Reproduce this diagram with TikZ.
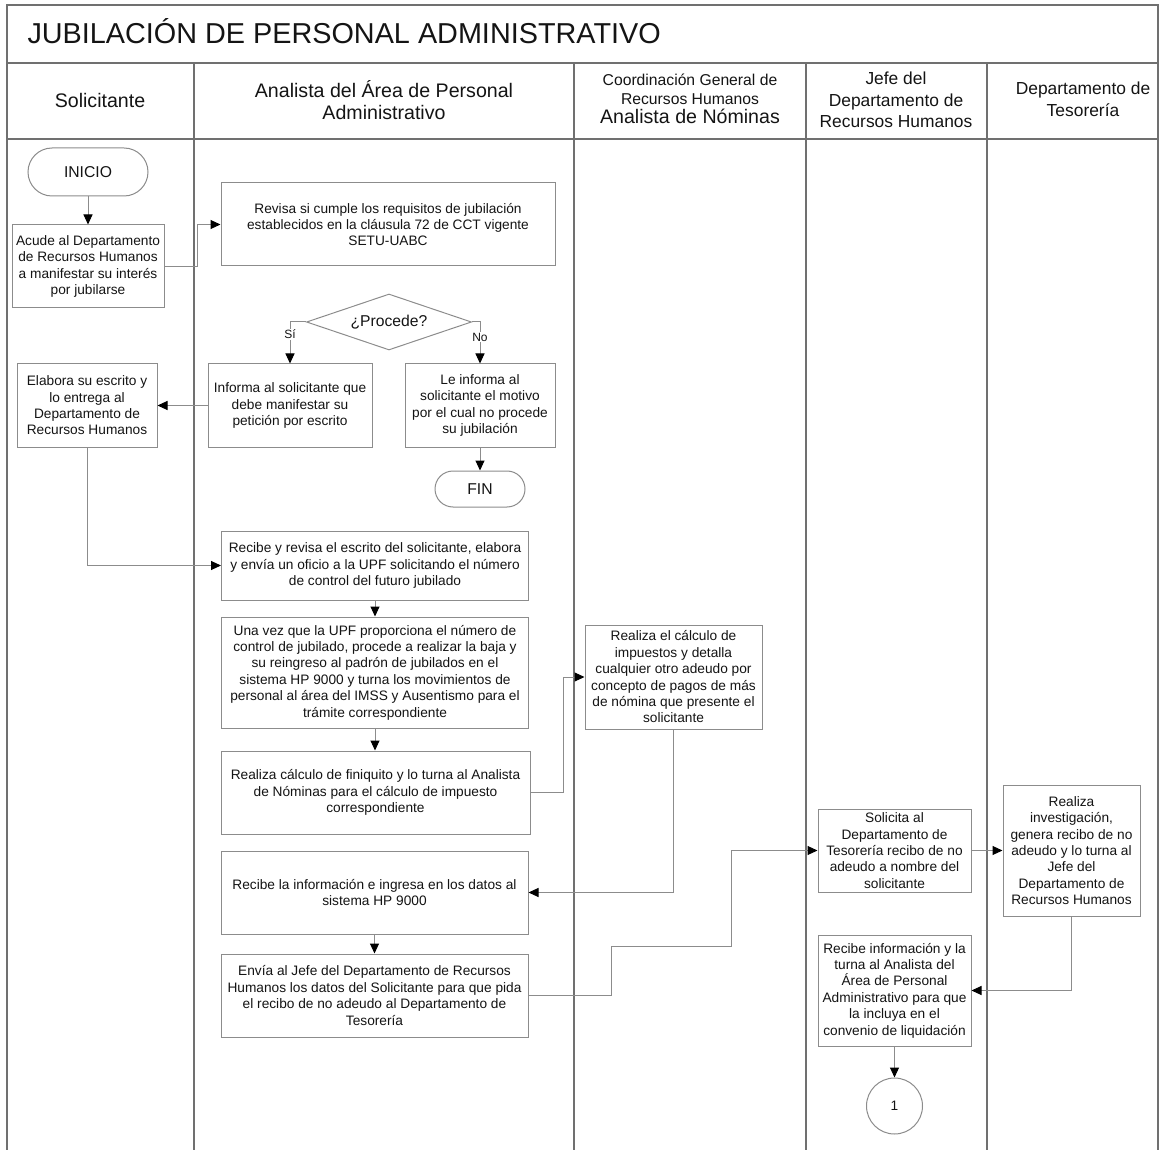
\documentclass[tikz,border=0pt]{standalone}
\usepackage{fontspec}
\setmainfont{Liberation Sans}
\usetikzlibrary{arrows.meta,shapes.geometric}
\definecolor{laneline}{RGB}{112,112,112}
\definecolor{boxline}{RGB}{140,140,140}
\definecolor{inktext}{RGB}{20,20,20}

\begin{document}
\begin{tikzpicture}[
  x=1pt, y=-1pt,
  font=\fontsize{13.7}{16.4}\selectfont, text=inktext,
  lane/.style={draw=laneline, line width=1.3pt},
  proc/.style={draw=boxline, line width=1pt, fill=white, align=center, inner sep=2pt},
  term/.style={proc, font=\fontsize{15.7}{18}\selectfont},
  decision/.style={draw=boxline, line width=1pt, diamond, aspect=3, inner sep=0pt,
              minimum width=165pt, minimum height=56pt, font=\fontsize{15.7}{18}\selectfont},
  conn/.style={draw=boxline, line width=1pt, circle, minimum size=56pt, inner sep=0pt},
  hdr/.style={align=center, font=\fontsize{19.6}{21.5}\selectfont},
  hdrsmall/.style={align=center, font=\fontsize{17.4}{21.5}\selectfont},
  arr/.style={draw=boxline, line width=1pt, -{Triangle[length=10pt,width=9pt,color=black]}},
  lbl/.style={fill=white, inner sep=1pt, font=\fontsize{12}{14}\selectfont}
]
\useasboundingbox (0,0) rectangle (1160,1150);

% frame and swim lanes
\draw[lane] (7,1150) -- (7,5) -- (1158,5) -- (1158,1150);
\draw[lane] (7,63) -- (1158,63);
\draw[lane] (7,139) -- (1158,139);
\foreach \x in {194,574,806,987}
  \draw[lane] (\x,63) -- (\x,1150);

\node[anchor=base west, font=\fontsize{28.8}{30}\selectfont] (titulo) at (24,44) {JUBILACIÓN DE PERSONAL ADMINISTRATIVO};

\node[hdr] (hsol) at (100,100) {Solicitante};
\node[hdr] (hana) at (384,100) {Analista del Área de Personal\\Administrativo};
\node[hdr, font=\fontsize{15.7}{19}\selectfont] (hnom) at (690,99) {Coordinación General de\\Recursos Humanos\\{\fontsize{19.6}{21}\selectfont Analista de Nóminas}};
\node[hdrsmall] (hjefe) at (896,100) {Jefe del\\Departamento de\\Recursos Humanos};
\node[hdrsmall] (htes) at (1083,99.5) {Departamento de\\Tesorería};

% Solicitante
\node[term, minimum width=120pt, minimum height=48pt, rounded corners=24pt] (inicio) at (88,172) {INICIO};
\node[proc, minimum width=152pt, minimum height=83pt] (acude) at (88,266.5) {Acude al Departamento\\de Recursos Humanos\\a manifestar su interés\\por jubilarse};
\node[proc, minimum width=140pt, minimum height=83pt] (elabora) at (87,405.5) {Elabora su escrito y\\lo entrega al\\Departamento de\\Recursos Humanos};

% Analista del Area de Personal Administrativo
\node[proc, minimum width=334pt, minimum height=83pt] (revisa) at (388,224.5) {Revisa si cumple los requisitos de jubilación\\establecidos en la cláusula 72 de CCT vigente\\SETU-UABC};
\node[decision] (procede) at (389,322) {¿Procede?};
\node[proc, minimum width=164pt, minimum height=83pt] (informa) at (290,405.5) {Informa al solicitante que\\debe manifestar su\\petición por escrito};
\node[proc, minimum width=150pt, minimum height=83pt] (motivo) at (480,405.5) {Le informa al\\solicitante el motivo\\por el cual no procede\\su jubilación};
\node[term, minimum width=90pt, minimum height=36pt, rounded corners=18pt] (fin) at (480,489) {FIN};
\node[proc, minimum width=307pt, minimum height=69pt] (oficio) at (375,565.5) {Recibe y revisa el escrito del solicitante, elabora\\y envía un oficio a la UPF solicitando el número\\de control del futuro jubilado};
\node[proc, minimum width=307pt, minimum height=111pt] (baja) at (375,672.5) {Una vez que la UPF proporciona el número de\\control de jubilado, procede a realizar la baja y\\su reingreso al padrón de jubilados en el\\sistema HP 9000 y turna los movimientos de\\personal al área del IMSS y Ausentismo para el\\trámite correspondiente};
\node[proc, minimum width=309pt, minimum height=83pt] (finiquito) at (375.5,792.5) {Realiza cálculo de finiquito y lo turna al Analista\\de Nóminas para el cálculo de impuesto\\correspondiente};
\node[proc, minimum width=307pt, minimum height=83pt] (ingresa) at (374.5,892.5) {Recibe la información e ingresa en los datos al\\sistema HP 9000};
\node[proc, minimum width=307pt, minimum height=83pt] (envia) at (374.5,995.5) {Envía al Jefe del Departamento de Recursos\\Humanos los datos del Solicitante para que pida\\el recibo de no adeudo al Departamento de\\Tesorería};

% Analista de Nominas
\node[proc, minimum width=177pt, minimum height=104pt] (impuestos) at (673.5,677) {Realiza el cálculo de\\impuestos y detalla\\cualquier otro adeudo por\\concepto de pagos de más\\de nómina que presente el\\solicitante};

% Jefe del Departamento de Recursos Humanos
\node[proc, minimum width=153pt, minimum height=83pt] (solicita) at (894.5,850.5) {Solicita al\\Departamento de\\Tesorería recibo de no\\adeudo a nombre del\\solicitante};
\node[proc, minimum width=153pt, minimum height=111pt] (turna) at (894.5,990.5) {Recibe información y la\\turna al Analista del\\Área de Personal\\Administrativo para que\\la incluya en el\\convenio de liquidación};
\node[conn] (uno) at (894.5,1106) {1};

% Departamento de Tesoreria
\node[proc, minimum width=137pt, minimum height=131pt] (recibo) at (1071.5,850.5) {Realiza\\investigación,\\genera recibo de no\\adeudo y lo turna al\\Jefe del\\Departamento de\\Recursos Humanos};

\draw[arr] (inicio) -- (acude);
\draw[arr] (acude.east) -- ++(33,0) |- (revisa.west);
\draw[arr] (procede.west) -| node[lbl, pos=0.65] {Sí} (informa.north);
\draw[arr] (procede.east) -| node[lbl, pos=0.68] {No} (motivo.north);
\draw[arr] (informa) -- (elabora);
\draw[arr] (motivo) -- (fin);
\draw[arr] (elabora.south) |- (oficio.west);
\draw[arr] (oficio) -- (baja);
\draw[arr] (baja.south) -- (baja.south |- finiquito.north);
\draw[arr] (finiquito.east) -- ++(33,0) |- (impuestos.west);
\draw[arr] (impuestos.south) |- (ingresa.east);
\draw[arr] (ingresa) -- (envia);
\draw[arr] (envia.east) -- ++(83,0) -- ++(0,-49) -- ++(120,0) |- (solicita.west);
\draw[arr] (solicita) -- (recibo);
\draw[arr] (recibo.south) |- (turna.east);
\draw[arr] (turna) -- (uno);
\end{tikzpicture}
\end{document}
